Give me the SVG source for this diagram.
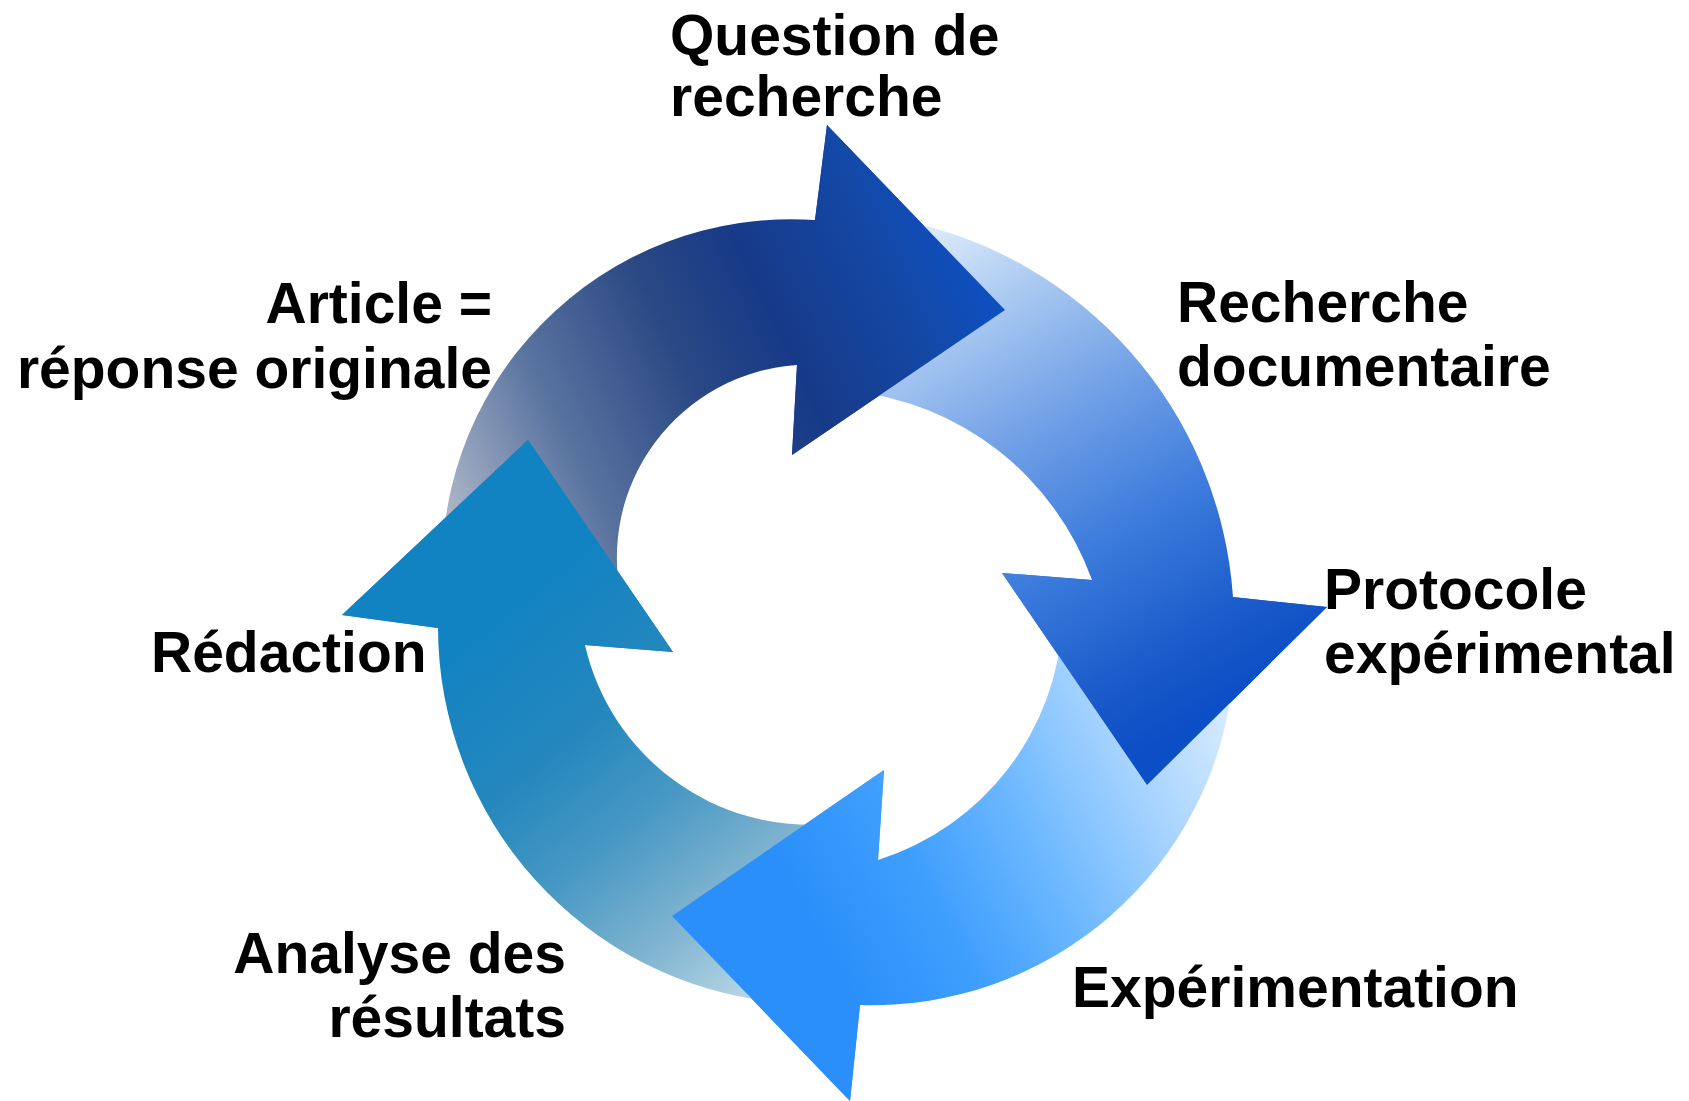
<svg xmlns="http://www.w3.org/2000/svg" width="1689" height="1101" viewBox="0 0 1689 1101">
<style>
.lbl{font-family:"Liberation Sans",Arial,"DejaVu Sans",sans-serif;font-weight:bold;font-size:57px;fill:#000}
.end{text-anchor:end}
</style>
<defs>
<linearGradient id="gA1" gradientUnits="userSpaceOnUse" x1="455" y1="560" x2="1000" y2="300">
<stop offset="0" stop-color="#b4bccc"/>
<stop offset="0.25" stop-color="#5a74a0"/>
<stop offset="0.48" stop-color="#2a4884"/>
<stop offset="0.65" stop-color="#173a88"/>
<stop offset="0.87" stop-color="#1349a8"/>
<stop offset="1" stop-color="#0e50c2"/>
</linearGradient>
<linearGradient id="gA2" gradientUnits="userSpaceOnUse" x1="920" y1="240" x2="1200" y2="720">
<stop offset="0" stop-color="#dbe9fb"/>
<stop offset="0.17" stop-color="#a9c9f1"/>
<stop offset="0.41" stop-color="#6e9ee6"/>
<stop offset="0.64" stop-color="#3b7bdc"/>
<stop offset="0.89" stop-color="#1757c8"/>
<stop offset="1" stop-color="#0b4ec6"/>
</linearGradient>
<linearGradient id="gA3" gradientUnits="userSpaceOnUse" x1="1230" y1="720" x2="820" y2="940">
<stop offset="0" stop-color="#d6ebfe"/>
<stop offset="0.23" stop-color="#a8d4ff"/>
<stop offset="0.5" stop-color="#6bb7ff"/>
<stop offset="0.74" stop-color="#3f9ffd"/>
<stop offset="1" stop-color="#2a8ffa"/>
</linearGradient>
<linearGradient id="gA4" gradientUnits="userSpaceOnUse" x1="760" y1="1000" x2="470" y2="640">
<stop offset="0" stop-color="#bcd9e7"/>
<stop offset="0.23" stop-color="#80b4d0"/>
<stop offset="0.47" stop-color="#4798c4"/>
<stop offset="0.7" stop-color="#2487bd"/>
<stop offset="1" stop-color="#1283c2"/>
</linearGradient>
</defs>
<rect width="1689" height="1101" fill="#ffffff"/>
<g id="connectors">
<g id="arrow-bodies">
<path id="arrow-question" fill="url(#gA1)" d="M 443.5,600 A 349 349 0 0 1 815,220 L 827,125 L 1005,310 L 792,455 L 797,365 A 193 193 0 0 0 621.6,600 Z"/>
<path id="arrow-recherche" fill="url(#gA2)" d="M 900,220 A 413 413 0 0 1 1233,597 L 1327,607 L 1147,785 L 1002,573 L 1092,580 A 288 288 0 0 0 850,391 Z"/>
<path id="arrow-experimentation" fill="url(#gA3)" d="M 1233,680 A 363 363 0 0 1 860,1005 L 850,1101 L 672,916 L 884,770 L 878,860 A 265 265 0 0 0 1062.6,620 Z"/>
<path id="arrow-analyse" fill="url(#gA4)" d="M 775,1002 A 377 377 0 0 1 438,628 L 342,615 L 528,440 L 673,652 L 585,645 A 231 231 0 0 0 830,824 Z"/>
</g>
<g id="arrow-heads">
<path fill="url(#gA1)" d="M 815,220 L 827,125 L 1005,310 L 792,455 L 797,365 Z"/>
<path fill="url(#gA2)" d="M 1233,597 L 1327,607 L 1147,785 L 1002,573 L 1092,580 Z"/>
<path fill="url(#gA3)" d="M 860,1005 L 850,1101 L 672,916 L 884,770 L 878,860 Z"/>
<path fill="url(#gA4)" d="M 438,628 L 342,615 L 528,440 L 673,652 L 585,645 Z"/>
</g>
</g>
<g id="node-question"><text class="lbl" x="670" y="55">Question de</text><text class="lbl" x="670" y="116">recherche</text></g>
<g id="node-recherche-documentaire"><text class="lbl" x="1177" y="322">Recherche</text><text class="lbl" x="1177" y="386">documentaire</text></g>
<g id="node-protocole"><text class="lbl" x="1324" y="609">Protocole</text><text class="lbl" x="1324" y="673">expérimental</text></g>
<g id="node-experimentation"><text class="lbl" x="1072" y="1007">Expérimentation</text></g>
<g id="node-analyse"><text class="lbl end" x="566" y="973">Analyse des</text><text class="lbl end" x="566" y="1037">résultats</text></g>
<g id="node-redaction"><text class="lbl" x="151" y="672">Rédaction</text></g>
<g id="node-article"><text class="lbl end" x="492" y="323">Article =</text><text class="lbl end" x="492" y="388">réponse originale</text></g>
</svg>
